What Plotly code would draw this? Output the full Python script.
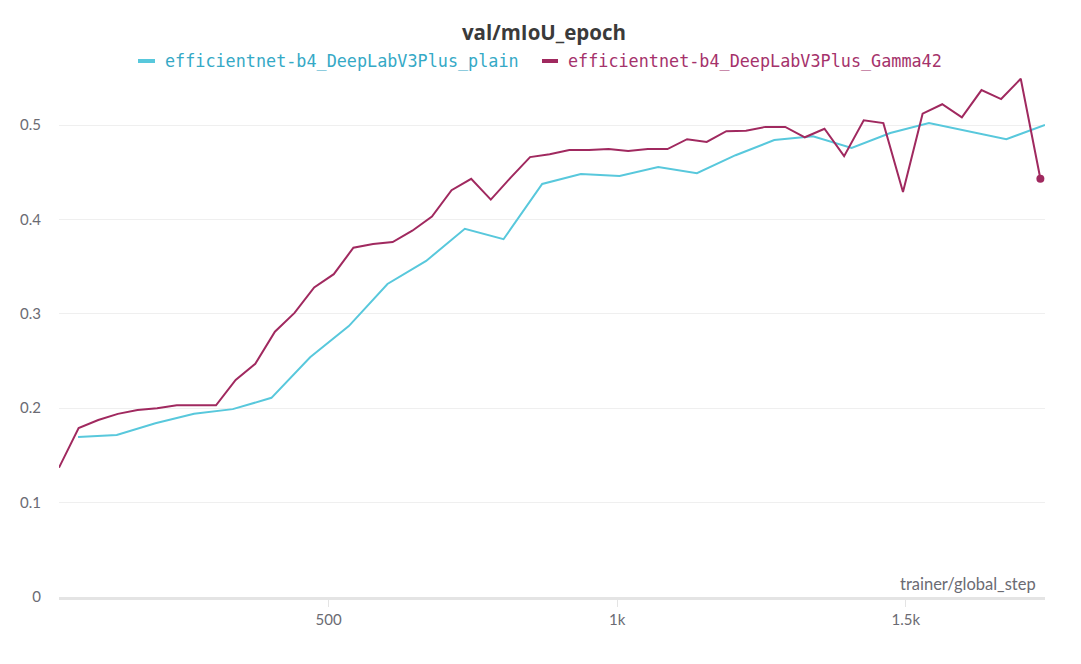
import plotly.graph_objects as go

# ---- data ----
gamma_steps = [34 * (i + 1) - 1 for i in range(51)]
gamma_vals = [0.137, 0.179, 0.1875, 0.194, 0.198, 0.200, 0.203, 0.203, 0.203, 0.230,
              0.247, 0.281, 0.301, 0.328, 0.342, 0.370, 0.374, 0.376, 0.388, 0.403,
              0.431, 0.443, 0.421, 0.444, 0.466, 0.469, 0.4735, 0.4735, 0.4745, 0.4725,
              0.4745, 0.4745, 0.485, 0.482, 0.4935, 0.494, 0.498, 0.498, 0.487, 0.496,
              0.467, 0.505, 0.502, 0.429, 0.512, 0.522, 0.508, 0.537, 0.5275, 0.549,
              0.443]

plain_steps = [67 * (i + 1) - 1 for i in range(26)]
plain_vals = [0.1695, 0.1716, 0.184, 0.194, 0.199, 0.211, 0.254, 0.287, 0.3316, 0.356,
              0.390, 0.379, 0.4375, 0.448, 0.446, 0.4555, 0.449, 0.468, 0.484, 0.488,
              0.4756, 0.4915, 0.502, 0.4936, 0.485, 0.500]

x_tickvals = [500, 1000, 1500]
y_tickvals = [0, 0.1, 0.2, 0.3, 0.4, 0.5]
y_ticktext = ["0", "0.1", "0.2", "0.3", "0.4", "0.5"]

name_plain = "efficientnet-b4_DeepLabV3Plus_plain"
name_gamma = "efficientnet-b4_DeepLabV3Plus_Gamma42"

c_plain = "#58c8dc"
c_gamma = "#a0295f"
t_plain = "#35a9c6"
t_gamma = "#a5326b"

fig = go.Figure()
fig.add_trace(go.Scatter(x=plain_steps, y=plain_vals, mode="lines", name=name_plain,
                         line=dict(color=c_plain, width=2), showlegend=False))
fig.add_trace(go.Scatter(x=gamma_steps, y=gamma_vals, mode="lines", name=name_gamma,
                         line=dict(color=c_gamma, width=2), showlegend=False))
fig.add_trace(go.Scatter(x=gamma_steps[-1:], y=gamma_vals[-1:], mode="markers",
                         marker=dict(color=c_gamma, size=8), showlegend=False,
                         hoverinfo="skip"))

OFF = 8  # page body offset
W, H = 1081, 664
# target screen plot box: x 59..1045, y 68..597
L = 59 - OFF
T = 68 - OFF
R = W - (1045 - OFF)
B = H - (597 - OFF)
pw = W - L - R
ph = H - T - B

def px2paper_x(px):
    return (px - OFF - L) / pw

def py2paper_y(py):
    return (H - B - (py - OFF)) / ph

# legend (custom: colored text)
fig.add_shape(type="line", xref="paper", yref="paper",
              x0=px2paper_x(138), x1=px2paper_x(155), y0=py2paper_y(61), y1=py2paper_y(61),
              line=dict(color=c_plain, width=4))
fig.add_shape(type="line", xref="paper", yref="paper",
              x0=px2paper_x(542), x1=px2paper_x(558), y0=py2paper_y(61), y1=py2paper_y(61),
              line=dict(color=c_gamma, width=4))
fig.add_annotation(text=name_plain, xref="paper", yref="paper", x=px2paper_x(163),
                   y=py2paper_y(61), xanchor="left", yanchor="middle", showarrow=False,
                   font=dict(family="DejaVu Sans Mono", size=16.8, color=t_plain))
fig.add_annotation(text=name_gamma, xref="paper", yref="paper", x=px2paper_x(566),
                   y=py2paper_y(61), xanchor="left", yanchor="middle", showarrow=False,
                   font=dict(family="DejaVu Sans Mono", size=16.8, color=t_gamma))

# x axis title at right
fig.add_annotation(text="trainer/global_step", xref="paper", yref="paper",
                   x=px2paper_x(1038), y=py2paper_y(584), xanchor="right", yanchor="middle",
                   showarrow=False, font=dict(family="Lato", size=16.5, color="#6b6b73"))

fig.update_layout(
    width=W, height=H,
    margin=dict(l=L, r=R, t=T, b=B),
    paper_bgcolor="white", plot_bgcolor="white",
    title=dict(text="<b>val/mIoU_epoch</b>", x=(544 - OFF) / W, xref="container",
               xanchor="center", y=1 - (33 - OFF) / H, yref="container", yanchor="middle",
               font=dict(family="Open Sans", size=20.5, color="#3a3a3a")),
    font=dict(family="Lato", color="#6b6b73", size=15),
    showlegend=False,
)
fig.update_xaxes(range=[33, 1741], tickvals=x_tickvals, tickformat="~s",
                 showgrid=False, zeroline=False, showline=True, linecolor="#e4e4e4",
                 linewidth=3, ticks="outside", ticklen=7, tickcolor="#e4e4e4",
                 tickfont=dict(size=15, color="#6b6b73"))
fig.update_yaxes(range=[0, ph / 944], tickvals=y_tickvals, ticktext=y_ticktext,
                 showgrid=True, gridcolor="#efefef", gridwidth=1, zeroline=False,
                 showline=False, ticks="", ticklabelstandoff=17,
                 tickfont=dict(size=15, color="#6b6b73"))

fig.write_html("out.html")
